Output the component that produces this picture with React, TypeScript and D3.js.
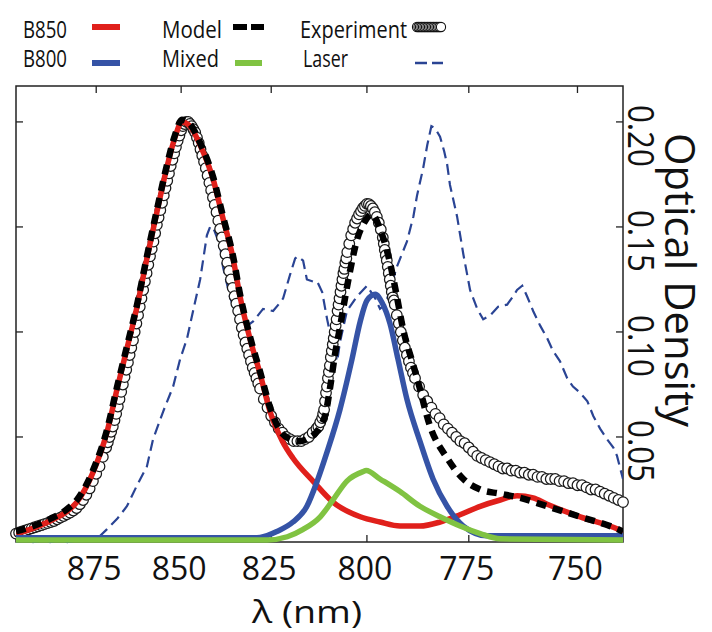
import React, { useEffect, useRef } from 'react'
import * as d3 from 'd3'

// ---------------------------------------------------------------- //
// data: wavelength in nm, optical density

const xTicks = [875, 850, 825, 800, 775, 750]
const yTicks = [0.05, 0.10, 0.15, 0.20]
const yTickLabels = ['0.05', '0.10', '0.15', '0.20']

const b850: [number, number][] = [
    [900, 0.004], [894.6, 0.0065], [889.2, 0.010], [884.5, 0.014], [880.9, 0.019], [876.0, 0.033],
    [871.8, 0.052], [868.7, 0.073], [865.8, 0.092], [862.8, 0.112], [859.9, 0.135], [857.0, 0.157],
    [854.0, 0.179], [851.7, 0.193], [849.8, 0.200], [847.5, 0.198], [844.6, 0.189], [841.0, 0.173],
    [838.2, 0.154], [835.4, 0.135], [833.5, 0.117], [830.8, 0.097], [828.0, 0.080], [825.3, 0.062],
    [822.0, 0.048], [819.2, 0.040], [813.9, 0.029], [808.7, 0.019], [801.7, 0.012], [796.7, 0.0095],
    [791.7, 0.0076], [786.8, 0.0076], [781.9, 0.0095], [777.1, 0.013], [772.3, 0.017], [767.6, 0.020],
    [763.7, 0.022], [760.0, 0.021], [756.8, 0.018], [749.4, 0.012], [742.1, 0.007], [740.0, 0.005]
]

const b800: [number, number][] = [
    [900, 0.002], [830, 0.002], [828.0, 0.0022], [823.5, 0.005], [819.2, 0.0095], [815.5, 0.017],
    [812.8, 0.029], [810.2, 0.043], [806.9, 0.063], [803.8, 0.087], [801.7, 0.105], [800.0, 0.115],
    [797.9, 0.118], [796.2, 0.114], [794.2, 0.104], [792.2, 0.087], [790.0, 0.068], [786.8, 0.048],
    [783.6, 0.030], [780.2, 0.017], [776.3, 0.0076], [770.7, 0.003], [740, 0.003]
]

const mixed: [number, number][] = [
    [900, 0.001], [826, 0.001], [820.7, 0.0025], [816.5, 0.006], [812.0, 0.012], [808.7, 0.020],
    [805.1, 0.029], [801.0, 0.0335], [800.2, 0.034], [796.7, 0.030], [791.7, 0.024], [786.8, 0.017],
    [781.9, 0.012], [777.1, 0.0076], [772.3, 0.004], [767.6, 0.0015], [740, 0.001]
]

const model: [number, number][] = [
    [900, 0.005], [894.6, 0.0075], [889.2, 0.011], [884.5, 0.015], [880.9, 0.020], [876.0, 0.034],
    [871.8, 0.053], [868.7, 0.074], [865.8, 0.093], [862.8, 0.113], [859.9, 0.136], [857.0, 0.158],
    [854.0, 0.180], [851.7, 0.194], [849.8, 0.201], [847.5, 0.199], [844.6, 0.190], [841.0, 0.174],
    [838.2, 0.155], [835.4, 0.136], [833.5, 0.118], [830.8, 0.098], [828.0, 0.081], [825.3, 0.064],
    [822.6, 0.053], [820.0, 0.049], [817.3, 0.048], [815.5, 0.049], [812.0, 0.055], [810.5, 0.062],
    [809.4, 0.074], [808.2, 0.089], [806.9, 0.102], [805.6, 0.116], [804.3, 0.129], [802.5, 0.144],
    [800.7, 0.152], [798.7, 0.156], [796.7, 0.149], [794.2, 0.133], [792.5, 0.117], [790.9, 0.101],
    [788.7, 0.086], [787.5, 0.078], [784.3, 0.055], [780.2, 0.040], [776.3, 0.030], [772.3, 0.025],
    [767.6, 0.023], [763.0, 0.021], [756.8, 0.017], [749.4, 0.012], [742.1, 0.007], [740.0, 0.005]
]

const laser: [number, number][] = [
    [900, 0.000], [897.0, 0.001], [894.6, 0.000], [891.0, 0.001], [889.2, 0.000], [886.0, 0.001],
    [883.9, 0.000], [880.0, 0.001], [876.0, 0.002], [873.8, 0.003], [871.8, 0.006], [868.7, 0.011],
    [865.8, 0.017], [862.8, 0.027], [859.9, 0.036], [858.1, 0.049], [855.2, 0.062], [852.3, 0.074],
    [850.3, 0.087], [848.3, 0.097], [846.6, 0.110], [844.6, 0.125], [842.7, 0.146], [841.8, 0.150],
    [841.0, 0.150], [839.0, 0.141], [838.2, 0.131], [836.3, 0.117], [834.3, 0.106], [831.5, 0.103],
    [829.9, 0.105], [827.2, 0.111], [824.5, 0.110], [822.6, 0.114], [821.8, 0.116], [820.0, 0.127],
    [818.6, 0.135], [817.9, 0.136], [816.5, 0.134], [815.5, 0.125], [813.9, 0.124], [812.8, 0.124],
    [811.5, 0.119], [810.2, 0.106], [808.7, 0.093], [807.6, 0.086], [806.9, 0.095], [805.1, 0.110],
    [802.5, 0.117], [800.0, 0.122], [797.9, 0.116], [796.7, 0.111], [795.4, 0.113], [794.2, 0.120],
    [792.5, 0.131], [790.0, 0.143], [788.4, 0.155], [787.5, 0.165], [786.0, 0.178], [785.0, 0.189],
    [784.0, 0.198], [783.1, 0.197], [781.9, 0.193], [780.9, 0.186], [780.2, 0.180], [779.5, 0.170],
    [777.8, 0.155], [776.3, 0.137], [774.7, 0.120], [773.0, 0.111], [771.6, 0.106], [769.9, 0.108],
    [768.1, 0.112], [766.0, 0.113], [764.6, 0.117], [763.7, 0.120], [762.5, 0.122], [761.4, 0.117],
    [760.0, 0.110], [758.4, 0.103], [756.8, 0.097], [755.5, 0.091], [753.9, 0.086], [752.3, 0.078],
    [751.0, 0.074], [749.4, 0.071], [747.8, 0.067], [746.5, 0.060], [745.0, 0.054], [743.5, 0.049],
    [742.1, 0.045], [741.3, 0.041], [740.6, 0.035], [740.0, 0.030]
]

// measured spectrum (circles)
const experiment: [number, number][] = [
    [900, .0040], [899, .0045], [898, .0050], [897, .0055], [896, .0060], [895, .0065], [894, .0070],
    [893, .0075], [892, .0080], [891, .0085], [890, .0090], [889, .0095], [888, .0100], [887, .0108],
    [886, .0116], [885, .0124], [884, .0132], [883, .0140], [882, .0150], [881, .0162], [880, .0180],
    [879, .0200], [878, .0225], [877, .0255], [876, .0290], [875, .0325], [874, .0360], [873, .0405],
    [872, .045], [871.5, .0475], [871, .050], [870.5, .0525], [870, .055], [869.5, .058], [869, .061],
    [868.5, .0645], [868, .068], [867.5, .0715], [867, .075], [866.5, .0785], [866, .082], [865.5, .0855],
    [865, .089], [864.5, .0925], [864, .096], [863.5, .100], [863, .104], [862.5, .108], [862, .112],
    [861.5, .116], [861, .120], [860.5, .124], [860, .128], [859.5, .132], [859, .136], [858.5, .1395],
    [858, .143], [857.5, .147], [857, .151], [856.5, .1545], [856, .158], [855.5, .1615], [855, .165],
    [854.5, .1685], [854, .172], [853.5, .1755], [853, .179], [852.5, .182], [852, .185], [851.5, .188],
    [851, .191], [850.5, .1935], [850, .196], [849.5, .198], [849, .199], [848.5, .200], [848, .200],
    [847.5, .199], [847, .198], [846.5, .1965], [846, .195], [845.5, .1925], [845, .190], [844.5, .187],
    [844, .184], [843.5, .181], [843, .178], [842.5, .1745], [842, .171], [841.5, .1675], [841, .164],
    [840.5, .1605], [840, .157], [839.5, .153], [839, .149], [838.5, .145], [838, .141], [837.5, .137],
    [837, .133], [836.5, .129], [836, .125], [835.5, .121], [835, .117], [834.5, .1135], [834, .110],
    [833.5, .106], [833, .102], [832.5, .0985], [832, .095], [831.5, .092], [831, .089], [830.5, .086],
    [830, .083], [829.5, .0805], [829, .078], [828.5, .0755], [828, .073],
    [827, .068], [826, .064], [825, .060], [824, .057], [823, .054], [822, .052], [821, .050], [820, .049],
    [819, .048], [818, .048], [817, .048], [816, .049], [815, .050], [814, .052], [813, .054],
    [812.5, .055], [812, .057], [811.5, .059], [811.25, .061], [811, .063], [810.75, .067], [810.5, .071],
    [810.25, .074], [810, .078], [809.75, .081], [809.5, .084], [809.25, .088], [809, .091], [808.75, .094],
    [808.5, .097], [808.25, .100], [808, .103], [807.75, .106], [807.5, .110], [807.25, .113], [807, .116],
    [806.75, .119], [806.5, .122], [806.25, .125], [806, .128], [805.75, .130], [805.5, .133], [805.25, .135],
    [805, .138], [804.5, .142], [804, .146], [803.5, .149], [803, .152], [802.5, .154], [802, .156],
    [801.5, .1575], [801, .159], [800.5, .160], [800, .161], [799.5, .1608], [799, .160], [798.5, .1588],
    [798, .157], [797.5, .1548], [797, .152], [796.5, .1488], [796, .145], [795.75, .142], [795.5, .139],
    [795.25, .1365], [795, .134], [794.75, .131], [794.5, .128], [794.25, .125], [794, .122], [793.75, .119],
    [793.5, .1165], [793.25, .115], [793, .113], [792.5, .108], [792, .104], [791.5, .100], [791, .096],
    [790.5, .0925], [790, .089], [789.5, .086], [789, .083], [788.5, .0805], [788, .078],
    [787, .074], [786, .070], [785, .067], [784, .064], [783, .061], [782, .059], [781, .056], [780, .054],
    [779, .052], [778, .050], [777, .048], [776, .047], [775, .045], [774, .043], [773, .041], [772, .040],
    [771, .039], [770, .038], [769, .037], [768, .036], [767, .035], [766, .035], [765, .034], [764, .034],
    [763, .033], [762, .033], [761, .032], [760, .032], [759, .031], [758, .031], [757, .030], [756, .030],
    [755, .030], [754, .029], [753, .029], [752, .028], [751, .028], [750, .027], [749, .027], [748, .026],
    [747, .025], [746, .025], [745, .024], [744, .023], [743, .022], [742, .021], [741, .020], [740, .019]
]

const RED = '#e0201b'
const BLUE = '#3553a6'
const GREEN = '#80c342'
const LASER = '#2a4494'
const FONT = '"Open Sans", "Noto Sans", sans-serif'

// ---------------------------------------------------------------- //

const drawChart = (node: SVGSVGElement) => {
    const svg = d3.select(node)
    svg.selectAll('*').remove()

    const frame = { left: 16, right: 623, top: 86, bottom: 542 }

    // x axis is linear in wavenumber (1/lambda), reversed in nm
    const xWave = d3.scaleLinear()
        .domain([1e7 / 900, 1e7 / 740])
        .range([frame.left, frame.right])
    const xPos = (nm: number) => xWave(1e7 / nm)
    const y = d3.scaleLinear().domain([0, 0.2171]).range([frame.bottom, frame.top])

    const smooth = d3.line<[number, number]>()
        .x(d => xPos(d[0]))
        .y(d => y(d[1]))
        .curve(d3.curveMonotoneX)
    const jagged = d3.line<[number, number]>()
        .x(d => xPos(d[0]))
        .y(d => y(d[1]))

    svg.append('defs').append('clipPath').attr('id', 'plot-clip')
        .append('rect')
        .attr('x', frame.left).attr('y', 0)
        .attr('width', frame.right - frame.left).attr('height', 632)

    // frame
    svg.append('rect')
        .attr('x', frame.left).attr('y', frame.top)
        .attr('width', frame.right - frame.left).attr('height', frame.bottom - frame.top)
        .attr('fill', 'none').attr('stroke', '#222').attr('stroke-width', 1.5)

    const ticks = svg.append('g').attr('stroke', '#222').attr('stroke-width', 1.3)
    xTicks.forEach(t => {
        ticks.append('line').attr('x1', xPos(t)).attr('x2', xPos(t))
            .attr('y1', frame.bottom).attr('y2', frame.bottom - 7)
        ticks.append('line').attr('x1', xPos(t)).attr('x2', xPos(t))
            .attr('y1', frame.top).attr('y2', frame.top + 7)
    })
    yTicks.forEach(t => {
        ticks.append('line').attr('x1', frame.left).attr('x2', frame.left + 7)
            .attr('y1', y(t)).attr('y2', y(t))
        ticks.append('line').attr('x1', frame.right).attr('x2', frame.right - 7)
            .attr('y1', y(t)).attr('y2', y(t))
    })

    // x tick labels
    svg.append('g').selectAll('text')
        .data(xTicks)
        .enter()
        .append('text')
        .attr('x', d => xPos(d) - 2)
        .attr('y', 580)
        .attr('text-anchor', 'middle')
        .attr('font-family', FONT)
        .attr('font-size', 32)
        .attr('fill', '#111')
        .text(d => d)

    svg.append('text')
        .attr('x', 307).attr('y', 623)
        .attr('text-anchor', 'middle')
        .attr('font-family', FONT)
        .attr('font-size', 31)
        .attr('textLength', 110)
        .attr('lengthAdjust', 'spacingAndGlyphs')
        .attr('fill', '#111')
        .text('λ (nm)')

    // right y tick labels, rotated
    svg.append('g').selectAll('text')
        .data(yTicks)
        .enter()
        .append('text')
        .attr('transform', d => `translate(628, ${y(d) + 14}) rotate(90)`)
        .attr('text-anchor', 'middle')
        .attr('font-family', FONT)
        .attr('font-size', 37)
        .attr('textLength', 62)
        .attr('lengthAdjust', 'spacingAndGlyphs')
        .attr('fill', '#111')
        .text((d, i) => yTickLabels[i])

    svg.append('text')
        .attr('transform', 'translate(665, 280) rotate(90)')
        .attr('text-anchor', 'middle')
        .attr('font-family', FONT)
        .attr('font-size', 42)
        .attr('textLength', 294)
        .attr('lengthAdjust', 'spacingAndGlyphs')
        .attr('fill', '#111')
        .text('Optical Density')

    // data
    const plot = svg.append('g')

    plot.append('path')
        .attr('clip-path', 'url(#plot-clip)')
        .attr('d', jagged(laser))
        .attr('fill', 'none')
        .attr('stroke', LASER)
        .attr('stroke-width', 2.2)
        .attr('stroke-dasharray', '11 6')

    plot.append('g').selectAll('circle')
        .data(experiment)
        .enter()
        .append('circle')
        .attr('cx', d => xPos(d[0]))
        .attr('cy', d => y(d[1]))
        .attr('r', 5.3)
        .attr('fill', 'white')
        .attr('stroke', '#1a1a1a')
        .attr('stroke-width', 1.25)

    const curves: [[number, number][], string][] = [[b850, RED], [b800, BLUE], [mixed, GREEN]]
    curves.forEach(([data, color]) => {
        plot.append('path')
            .attr('clip-path', 'url(#plot-clip)')
            .attr('d', smooth(data))
            .attr('fill', 'none')
            .attr('stroke', color)
            .attr('stroke-width', 5.5)
    })

    plot.append('path')
        .attr('clip-path', 'url(#plot-clip)')
        .attr('d', smooth(model))
        .attr('fill', 'none')
        .attr('stroke', '#000')
        .attr('stroke-width', 6.5)
        .attr('stroke-dasharray', '10 7')

    // legend
    const legend = svg.append('g')
    const legendText = (x: number, yy: number, label: string, len: number) => {
        legend.append('text')
            .attr('x', x).attr('y', yy)
            .attr('font-family', FONT)
            .attr('font-size', 23)
            .attr('textLength', len)
            .attr('lengthAdjust', 'spacingAndGlyphs')
            .attr('fill', '#111')
            .text(label)
    }
    legendText(23, 38, 'B850', 44)
    legendText(162, 38, 'Model', 60)
    legendText(300, 38, 'Experiment', 107)
    legendText(23, 67, 'B800', 44)
    legendText(162, 67, 'Mixed', 57)
    legendText(303, 67, 'Laser', 45)

    const swatch = (x1: number, x2: number, yy: number, color: string, w: number, dash?: string) => {
        const l = legend.append('line')
            .attr('x1', x1).attr('x2', x2).attr('y1', yy).attr('y2', yy)
            .attr('stroke', color).attr('stroke-width', w)
        if (dash) l.attr('stroke-dasharray', dash)
    }
    swatch(92, 120, 27, RED, 6)
    swatch(92, 120, 63, BLUE, 6)
    swatch(235, 262, 63, GREEN, 6)
    swatch(233, 264, 27, '#000', 6, '14 4')
    swatch(415, 443, 63, LASER, 2.5, '12 5')
    d3.range(417, 442, 1.5).forEach(cx => {
        legend.append('circle')
            .attr('cx', cx).attr('cy', 27).attr('r', 4.6)
            .attr('fill', 'white').attr('stroke', '#111').attr('stroke-width', 1.1)
    })
}

export default function App() {
    const ref = useRef<SVGSVGElement>(null)
    useEffect(() => {
        if (ref.current) drawChart(ref.current)
    }, [])
    return (
        <svg
            ref={ref}
            width={712}
            height={632}
            style={{ position: 'absolute', left: 0, top: 0, background: 'white' }}
        />
    )
}
